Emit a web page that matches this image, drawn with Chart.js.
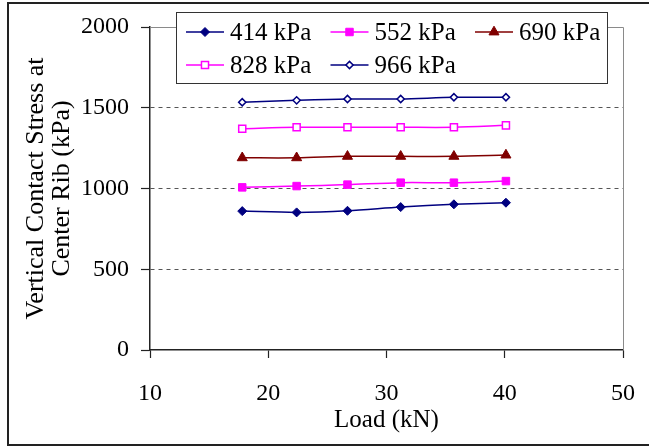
<!DOCTYPE html>
<html>
<head>
<meta charset="utf-8">
<script src="https://cdn.jsdelivr.net/npm/chart.js@4/dist/chart.umd.min.js"></script>
<style>
  html, body { margin: 0; padding: 0; background: #fff; }
  canvas { display: block; }
</style>
</head>
<body>
<canvas id="c" width="649" height="448"></canvas>
<script>
// Applied load (kN) at each test step
const loads = [17.8, 22.4, 26.7, 31.2, 35.7, 40.1];

// Vertical contact stress at the center rib (kPa), one array per inflation pressure
const stress414 = [860, 852, 862, 885, 902, 912];
const stress552 = [1007, 1015, 1024, 1036, 1036, 1046];
const stress690 = [1190, 1190, 1199, 1199, 1199, 1207];
const stress828 = [1370, 1379, 1379, 1379, 1379, 1391];
const stress966 = [1534, 1546, 1554, 1554, 1565, 1565];

const seriesNames = ['414 kPa', '552 kPa', '690 kPa', '828 kPa', '966 kPa'];

const xMin = 10, xMax = 50, xStep = 10;
const yMin = 0, yMax = 2000, yStep = 500;

const FONT = "'Liberation Serif', 'Times New Roman', serif";

function series(values, name, color, style, radius, fill, bw) {
  return {
    label: name,
    data: loads.map((x, i) => ({ x: x, y: values[i] })),
    borderColor: color,
    backgroundColor: color,
    borderWidth: 1.5,
    pointStyle: style,
    pointRadius: radius,
    pointHoverRadius: radius,
    pointBackgroundColor: fill,
    pointBorderColor: color,
    pointBorderWidth: bw,
    tension: 0.3
  };
}

const datasets = [
  series(stress414, seriesNames[0], '#000080', 'rectRot', 4.5, '#000080', 1),
  series(stress552, seriesNames[1], '#FF00FF', 'rect', 5.3, '#FF00FF', 1),
  series(stress690, seriesNames[2], '#800000', 'triangle', 5.8, '#800000', 1),
  series(stress828, seriesNames[3], '#FF00FF', 'rect', 5, '#FFFFFF', 1.5),
  series(stress966, seriesNames[4], '#000080', 'rectRot', 3.6, '#FFFFFF', 1.5)
];

function drawMarker(c, ds, x, y) {
  c.save();
  c.fillStyle = ds.pointBackgroundColor;
  c.strokeStyle = ds.pointBorderColor;
  c.lineWidth = ds.pointBorderWidth;
  Chart.helpers.drawPoint(c, {
    pointStyle: ds.pointStyle,
    radius: ds.pointRadius,
    rotation: 0,
    borderWidth: ds.pointBorderWidth
  }, x, y);
  c.restore();
}

// Outer frame, plot frame and the boxed legend
const decorations = {
  id: 'decorations',
  beforeDraw(chart) {
    const c = chart.ctx;
    c.save();
    c.fillStyle = '#fff';
    c.fillRect(0, 0, chart.width, chart.height);
    c.strokeStyle = '#222';
    c.lineWidth = 2;
    c.strokeRect(8, 3, chart.width + 10, chart.height - 6);
    c.restore();
  },
  beforeDatasetsDraw(chart) {
    const a = chart.chartArea;
    const c = chart.ctx;
    c.save();
    c.strokeStyle = '#8a8a8a';
    c.lineWidth = 1;
    c.beginPath();
    c.moveTo(a.left, a.top + 0.5);
    c.lineTo(a.right + 0.5, a.top + 0.5);
    c.lineTo(a.right + 0.5, a.bottom);
    c.stroke();
    c.restore();
  },
  afterDraw(chart) {
    const a = chart.chartArea;
    const c = chart.ctx;
    const box = { left: a.left + 26, top: a.top - 15, width: 431, height: 71 };
    c.save();
    c.fillStyle = '#fff';
    c.fillRect(box.left, box.top, box.width, box.height);
    c.strokeStyle = '#333';
    c.lineWidth = 1;
    c.strokeRect(box.left + 0.5, box.top + 0.5, box.width, box.height);

    const colW = 144.5, rowH = 33, symLen = 38;
    c.font = '25px ' + FONT;
    c.textBaseline = 'middle';
    c.textAlign = 'left';
    chart.data.datasets.forEach((ds, i) => {
      const col = i < 3 ? i : i - 3;
      const row = i < 3 ? 0 : 1;
      const x0 = box.left + 10 + col * colW;
      const y0 = box.top + 20 + row * rowH;
      c.strokeStyle = ds.borderColor;
      c.lineWidth = 1.5;
      c.beginPath();
      c.moveTo(x0, y0);
      c.lineTo(x0 + symLen, y0);
      c.stroke();
      drawMarker(c, ds, x0 + symLen / 2, y0);
      c.fillStyle = '#000';
      c.fillText(ds.label, x0 + symLen + 6, y0 + 1);
    });
    c.restore();
  }
};

new Chart(document.getElementById('c'), {
  type: 'line',
  data: { datasets: datasets },
  options: {
    responsive: false,
    animation: false,
    devicePixelRatio: 1,
    layout: { padding: { left: 8, right: 26, top: 27, bottom: 8 } },
    plugins: {
      legend: { display: false },
      tooltip: { enabled: false }
    },
    scales: {
      x: {
        type: 'linear',
        min: xMin,
        max: xMax,
        ticks: {
          stepSize: xStep,
          color: '#000',
          font: { family: FONT, size: 24 },
          padding: 21,
          maxRotation: 0,
          callback: (v) => String(v)
        },
        grid: {
          drawOnChartArea: false,
          drawTicks: true,
          tickLength: 8,
          tickColor: '#222',
          tickWidth: 1.2
        },
        border: { display: true, color: '#222', width: 1.5 },
        title: {
          display: true,
          text: 'Load (kN)',
          color: '#000',
          font: { family: FONT, size: 25, lineHeight: 1.2 },
          padding: { top: 0, bottom: 5 }
        },
        afterFit(scale) {
          scale.height = 90;
          scale.paddingLeft = 0;
          scale.paddingRight = 0;
        }
      },
      y: {
        type: 'linear',
        min: yMin,
        max: yMax,
        ticks: {
          stepSize: yStep,
          color: '#000',
          font: { family: FONT, size: 24 },
          padding: 12,
          callback: (v) => String(v)
        },
        grid: {
          color: (g) => (g.tick && (g.tick.value === yMin || g.tick.value === yMax)) ? 'rgba(0,0,0,0)' : '#555',
          lineWidth: 1,
          tickLength: 9,
          tickColor: '#222',
          tickWidth: 1.2,
          tickBorderDash: []
        },
        border: { display: true, color: '#222', width: 1.5, dash: [4, 4] },
        title: {
          display: true,
          text: ['Vertical Contact Stress at', 'Center Rib (kPa)'],
          color: '#000',
          font: { family: FONT, size: 26, lineHeight: 1.0 },
          padding: { top: 15, bottom: 0 }
        },
        afterFit(scale) {
          scale.width = 142;
          scale.paddingTop = 0;
          scale.paddingBottom = 0;
        }
      }
    }
  },
  plugins: [decorations]
});
</script>
</body>
</html>
